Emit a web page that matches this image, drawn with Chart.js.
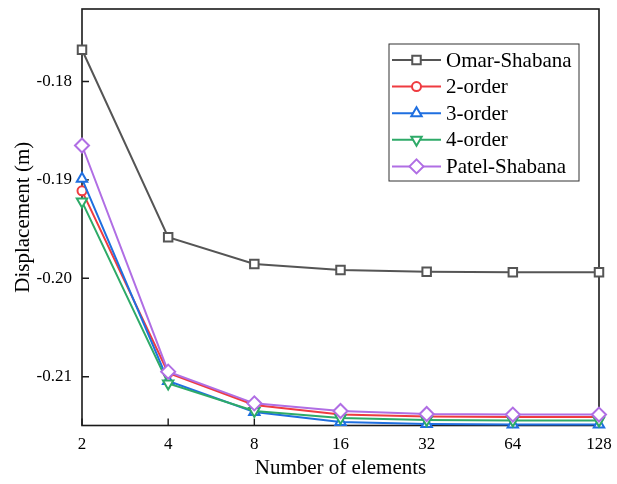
<!DOCTYPE html>
<html>
<head>
<meta charset="utf-8">
<script src="https://cdn.jsdelivr.net/npm/chart.js@4.4.1/dist/chart.umd.min.js"></script>
<style>
  body { margin: 0; background: #fff; }
  #wrap { width: 617px; height: 484px; }
</style>
</head>
<body>
<div id="wrap"><canvas id="displacement_chart"></canvas></div>
<script>
// DATA
const element_counts = ['2', '4', '8', '16', '32', '64', '128'];
const series_names = ['Omar-Shabana', '2-order', '3-order', '4-order', 'Patel-Shabana'];
const omar_shabana = [-0.17678, -0.19583, -0.19855, -0.19916, -0.19933, -0.19939, -0.19939];
const order_2 = [-0.19112, -0.20963, -0.21288, -0.21383, -0.21405, -0.2141, -0.2141];
const order_3 = [-0.1899, -0.21044, -0.21359, -0.21461, -0.21481, -0.21486, -0.21486];
const order_4 = [-0.19221, -0.21069, -0.21349, -0.2142, -0.21441, -0.21444, -0.21444];
const patel_shabana = [-0.18651, -0.20949, -0.21271, -0.21349, -0.21379, -0.21385, -0.21385];
const y_min = -0.21496, y_max = -0.17264;

const FONT = "'Liberation Serif', 'Times New Roman', serif";

// marker look for each series
const styles = [
  { color: '#555555', pointStyle: 'rect', radius: 6, rotation: 0 },
  { color: '#ef3b40', pointStyle: 'circle', radius: 4.5, rotation: 0 },
  { color: '#1f6fe0', pointStyle: 'triangle', radius: 6, rotation: 0 },
  { color: '#2eaa68', pointStyle: 'triangle', radius: 6, rotation: 180 },
  { color: '#b06ee4', pointStyle: 'rectRot', radius: 7, rotation: 0 },
];
const all_series = [omar_shabana, order_2, order_3, order_4, patel_shabana];

// FRAME + INWARD TICKS
const frameTicks = {
  id: 'frameTicks',
  beforeDatasetsDraw(chart) {
    const { ctx, chartArea: a, scales } = chart;
    ctx.save();
    ctx.strokeStyle = '#1a1a1a';
    ctx.lineWidth = 1.6;
    ctx.strokeRect(a.left, a.top, a.right - a.left, a.bottom - a.top);
    ctx.lineWidth = 1.4;
    ctx.beginPath();
    scales.x.ticks.forEach((t, i) => {
      const px = scales.x.getPixelForTick(i);
      ctx.moveTo(px, a.bottom);
      ctx.lineTo(px, a.bottom - 7);
    });
    scales.y.ticks.forEach((t, i) => {
      const py = scales.y.getPixelForTick(i);
      ctx.moveTo(a.left, py);
      ctx.lineTo(a.left + 7, py);
    });
    ctx.stroke();
    ctx.restore();
  },
};

// LEGEND IN A BOX
function drawMarker(ctx, st, x, y) {
  ctx.fillStyle = '#fff';
  ctx.strokeStyle = st.color;
  ctx.lineWidth = 2;
  Chart.helpers.drawPoint(ctx, { pointStyle: st.pointStyle, radius: st.radius, rotation: st.rotation, borderWidth: 2 }, x, y);
}

const legendBox = {
  id: 'legendBox',
  afterDraw(chart) {
    const { ctx, chartArea: a } = chart;
    const x0 = a.right - 210, y0 = a.top + 35;
    const w = 190, h = 137, row = 26.6;
    ctx.save();
    ctx.fillStyle = '#fff';
    ctx.fillRect(x0, y0, w, h);
    ctx.strokeStyle = '#333';
    ctx.lineWidth = 1;
    ctx.strokeRect(x0, y0, w, h);
    chart.data.datasets.forEach((ds, i) => {
      const st = styles[i];
      const y = y0 + 16 + i * row;
      ctx.strokeStyle = st.color;
      ctx.lineWidth = 2;
      ctx.beginPath();
      ctx.moveTo(x0 + 3, y);
      ctx.lineTo(x0 + 52, y);
      ctx.stroke();
      drawMarker(ctx, st, x0 + 27.5, y);
      ctx.fillStyle = '#000';
      ctx.font = '21px ' + FONT;
      ctx.textBaseline = 'middle';
      ctx.textAlign = 'left';
      ctx.fillText(ds.label, x0 + 57, y + 1);
    });
    ctx.restore();
  },
};

const datasets = series_names.map((name, i) => ({
  label: name,
  data: all_series[i],
  borderColor: styles[i].color,
  backgroundColor: '#fff',
  borderWidth: 2,
  pointStyle: styles[i].pointStyle,
  pointRadius: styles[i].radius,
  pointRotation: styles[i].rotation,
  pointBorderWidth: 2,
  pointBackgroundColor: '#fff',
  pointBorderColor: styles[i].color,
  tension: 0,
  clip: false,
  order: series_names.length - i,
}));

const ctx = document.getElementById('displacement_chart').getContext('2d');
new Chart(ctx, {
  type: 'line',
  data: { labels: element_counts, datasets: datasets },
  options: {
    responsive: true,
    maintainAspectRatio: false,
    animation: false,
    layout: { padding: { top: 9, right: 18, left: 0, bottom: 0 } },
    plugins: {
      legend: { display: false },
      tooltip: { enabled: false },
    },
    scales: {
      x: {
        type: 'category',
        offset: false,
        grid: { display: false, drawTicks: false },
        border: { display: false },
        ticks: { color: '#000', font: { family: FONT, size: 17 }, padding: 9, maxRotation: 0, autoSkip: false },
        title: { display: true, text: 'Number of elements', color: '#000', font: { family: FONT, size: 21 }, padding: { top: 0, bottom: 3 } },
        afterFit: s => { s.height = 58.5; s.paddingLeft = 0; s.paddingRight = 0; },
      },
      y: {
        min: y_min,
        max: y_max,
        grid: { display: false, drawTicks: false },
        border: { display: false },
        ticks: {
          stepSize: 0.01,
          includeBounds: false,
          color: '#000',
          font: { family: FONT, size: 17 },
          padding: 10,
          callback: v => v.toFixed(2),
        },
        title: { display: true, text: 'Displacement (m)', color: '#000', font: { family: FONT, size: 21 }, padding: { top: 11, bottom: 0 } },
        afterFit: s => { s.width = 82; s.paddingTop = 0; s.paddingBottom = 0; },
      },
    },
  },
  plugins: [frameTicks, legendBox],
});
</script>
</body>
</html>
